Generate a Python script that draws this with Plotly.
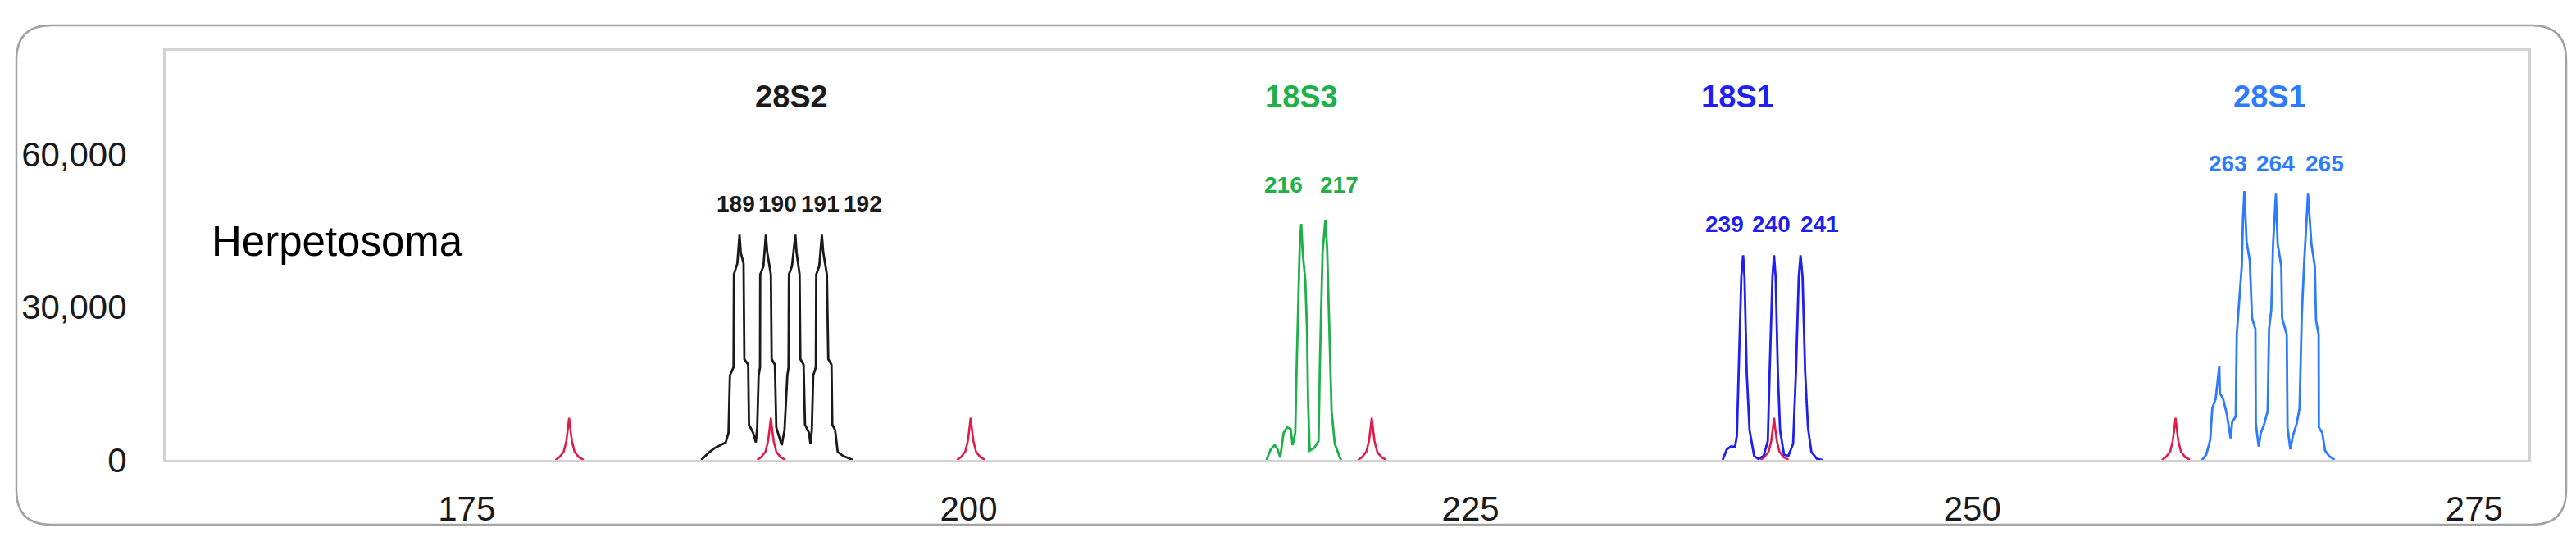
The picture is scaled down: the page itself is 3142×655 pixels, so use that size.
import plotly.graph_objects as go

# electropherogram traces (size in bp, signal in RFU)
black_x = [186.68, 187.09, 187.36, 187.90, 188.04, 188.11, 188.29, 188.31, 188.48, 188.59, 188.65, 188.79,
           188.83, 189.02, 189.06, 189.27, 189.40, 189.47, 189.54, 189.61, 189.62, 189.78, 189.90, 189.97,
           190.15, 190.19, 190.35, 190.42, 190.69, 190.83, 190.97, 191.03, 191.05, 191.20, 191.37, 191.43,
           191.58, 191.62, 191.78, 191.85, 192.05, 192.12, 192.19, 192.26, 192.39, 192.41, 192.56, 192.69,
           192.76, 192.94, 193.01, 193.17, 193.21, 193.35, 193.48, 193.76, 194.23]
black_y = [0, 1555, 2359, 3432, 5308, 16568, 18177, 36408, 38552, 44183, 40698, 38552,
           19786, 18713, 6917, 5308, 3432, 6381, 16568, 18177, 36408, 38016, 44183, 40698,
           36408, 19786, 18713, 6381, 2895, 5845, 16568, 18177, 36408, 38016, 44183, 40698,
           36408, 19786, 18713, 6917, 5308, 3164, 5845, 16568, 18177, 36408, 38016, 44183,
           40698, 36408, 19786, 18713, 6917, 5845, 1555, 751, 0]

green_x = [214.84, 215.05, 215.25, 215.39, 215.52, 215.69, 215.86, 216.04, 216.14, 216.27, 216.34, 216.48,
           216.50, 216.57, 216.64, 216.77, 216.86, 216.91, 216.99, 217.22, 217.43, 217.50, 217.63, 217.70,
           217.77, 217.86, 217.97, 218.08, 218.24, 218.52, 218.58]
green_y = [0, 2091, 2895, 2091, 483, 5308, 6381, 6113, 2895, 5308, 18177, 39089,
           42843, 46327, 40698, 35336, 25148, 11206, 1823, 2359, 3700, 19250, 40698, 43914,
           47132, 41233, 26220, 9598, 3164, 214, 0]

blue_x = [237.56, 237.77, 237.97, 238.18, 238.27, 238.35, 238.49, 238.58, 238.65, 238.76, 238.90, 239.13,
          239.33, 239.60, 239.81, 239.90, 240.04, 240.12, 240.20, 240.31, 240.42, 240.62, 240.83, 241.07,
          241.21, 241.35, 241.44, 241.54, 241.67, 241.81, 241.98, 242.26, 242.53]
blue_y = [0, 2091, 2627, 2627, 4772, 17105, 35872, 40162, 35872, 17105, 5845, 751,
          214, 751, 3700, 17105, 35872, 40162, 35872, 17105, 5845, 1019, 751, 3164,
          17105, 35872, 40162, 35872, 17105, 6381, 1555, 214, 0]

sky_x = [261.44, 261.65, 261.85, 261.95, 262.12, 262.30, 262.33, 262.49, 262.67, 262.87, 262.94, 263.12,
         263.17, 263.28, 263.42, 263.48, 263.55, 263.66, 263.82, 263.93, 264.10, 264.12, 264.26, 264.37,
         264.53, 264.71, 264.78, 264.89, 264.98, 265.12, 265.21, 265.39, 265.43, 265.66, 265.70, 265.84,
         265.97, 266.16, 266.30, 266.41, 266.52, 266.72, 266.89, 267.06, 267.12, 267.25, 267.26, 267.43,
         267.57, 267.77, 268.04]
sky_y = [0, 1019, 3968, 10134, 12011, 18445, 13083, 12011, 9061, 4236, 7453, 8526,
         24612, 29974, 38016, 47132, 52762, 42843, 39089, 27828, 25684, 7185, 2627, 5308,
         6917, 9598, 25684, 29437, 42307, 52226, 42307, 38016, 27828, 24612, 6381, 2091,
         4772, 7185, 10134, 28364, 38016, 52226, 42307, 38016, 27292, 24612, 6381, 5308,
         1823, 751, 0]

# size standard peaks (red): positions, and one peak profile
ladder_sizes = [180.1, 190.15, 200.1, 220.08, 240.12, 260.12]
ladder_dx = [-0.68, -0.48, -0.27, -0.14, -0.07, 0, 0.07, 0.14, 0.27, 0.48, 0.72]
ladder_y = [0, 540, 1610, 3700, 5850, 8250, 5850, 3700, 1610, 540, 0]

# marker names
markers = ["28S2", "18S3", "18S1", "28S1"]
marker_x = [191.2, 216.6, 238.3, 264.8]
marker_y = 71300

# allele size labels
allele_text = [["189", "190", "191", "192"], ["216", "217"], ["239", "240", "241"], ["263", "264", "265"]]
allele_x = [[188.4, 190.5, 192.6, 194.75], [215.7, 218.45], [237.67, 240.0, 242.4], [262.73, 265.1, 267.55]]
allele_y = [50200, 53900, 46200, 58200]

colors = ["#1a1a1a", "#1fb04a", "#1f1ff2", "#2d7bff"]
red = "#e31b4b"

y_ticks = [0, 30000, 60000]
x_ticks = [175, 200, 225, 250, 275]

W, H = 3142, 655
L, R, T, B = 194, 3076, 54, 553

fig = go.Figure()

rx, ry = [], []
for s in ladder_sizes:
    rx += [s + d for d in ladder_dx] + [None]
    ry += ladder_y + [None]
fig.add_trace(go.Scatter(x=rx, y=ry, mode="lines", line=dict(color=red, width=2.6), hoverinfo="skip"))

for xs, ys, c in zip([black_x, green_x, blue_x, sky_x], [black_y, green_y, blue_y, sky_y], colors):
    fig.add_trace(go.Scatter(x=xs, y=ys, mode="lines", line=dict(color=c, width=2.8)))

bold = "Liberation Sans Narrow, Arial Narrow, Liberation Sans, sans-serif"
for name, mx, c in zip(markers, marker_x, colors):
    fig.add_annotation(x=mx, y=marker_y, text="<b>%s</b>" % name, showarrow=False,
                       font=dict(family=bold, size=38, color=c))
for texts, xs, yv, c in zip(allele_text, allele_x, allele_y, colors):
    for t, xv in zip(texts, xs):
        fig.add_annotation(x=xv, y=yv, text="<b>%s</b>" % t, showarrow=False,
                           font=dict(family=bold, size=28, color=c))

fig.add_annotation(x=162.2, y=42950, text="Herpetosoma", showarrow=False, xanchor="left",
                   font=dict(family="Liberation Sans", size=51, color="black"))


# rounded outer frame, built in pixels then mapped to paper coords
def pp(px, py):
    return "%.5f,%.5f" % ((px - L) / (R - L), (B - py) / (B - T))


x0, y0, x1, y1, r = 12, 23, 3122, 632, 42
path = ("M" + pp(x0 + r, y0) + " L" + pp(x1 - r, y0) + " Q" + pp(x1, y0) + " " + pp(x1, y0 + r) +
        " L" + pp(x1, y1 - r) + " Q" + pp(x1, y1) + " " + pp(x1 - r, y1) +
        " L" + pp(x0 + r, y1) + " Q" + pp(x0, y1) + " " + pp(x0, y1 - r) +
        " L" + pp(x0, y0 + r) + " Q" + pp(x0, y0) + " " + pp(x0 + r, y0) + " Z")
fig.add_shape(type="path", path=path, xref="paper", yref="paper",
              line=dict(color="#a3a3a3", width=2.5), layer="below")

tickfont = dict(family="Liberation Sans", size=42, color="#1a1a1a")
fig.update_xaxes(range=[160, 277.7], tickvals=x_ticks, showgrid=False, zeroline=False,
                 showline=True, mirror=True, linecolor="#d2d2d2", linewidth=3,
                 ticks="", ticklabelstandoff=21, tickfont=tickfont)
fig.update_yaxes(range=[0, 80270], tickvals=y_ticks, tickformat=",", showgrid=False, zeroline=False,
                 showline=True, mirror=True, linecolor="#d2d2d2", linewidth=3,
                 ticks="", ticklabelstandoff=36, tickfont=tickfont)
fig.update_layout(width=W, height=H, autosize=False, showlegend=False,
                  margin=dict(l=L, r=W - R, t=T, b=H - B),
                  plot_bgcolor="white", paper_bgcolor="white")

fig.write_html("out.html")
